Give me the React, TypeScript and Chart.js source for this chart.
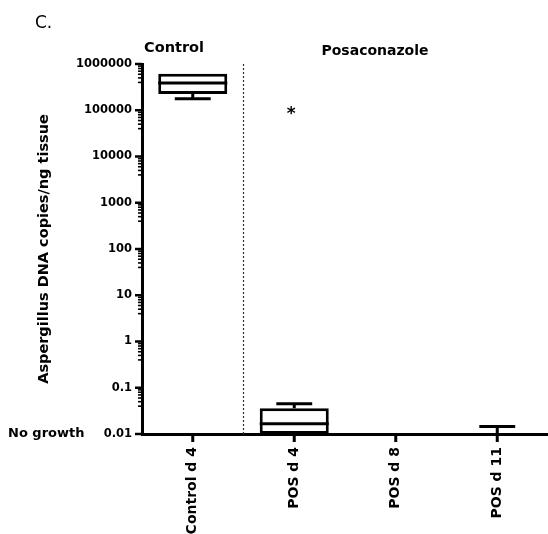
import React, { useEffect, useRef } from "react";
import { Chart, registerables } from "chart.js";

Chart.register(...registerables);

const categories = ["Control d 4", "POS d 4", "POS d 8", "POS d 11"];
const boxLow = [224000, 0.01, null, null];
const boxHigh = [617000, 0.036, null, null];
const medians = [390000, 0.0166, null, null];
const whiskerLow = [178000, null, null, null];
const whiskerHigh = [null, 0.045, null, 0.0145];
const significance = [null, 100000, null, null];
const yMin = 0.01;
const yMax = 1000000;
const minorSteps = [4, 5, 6, 7, 8, 9];

const FONT = "DejaVu Sans";
const LW = 3;

function formatPow(value: number): string {
  const e = Math.log10(value);
  const r = Math.round(e);
  if (Math.abs(e - r) > 1e-6) return "";
  if (r >= 0) return "1" + "0".repeat(r);
  return "0." + "0".repeat(-r - 1) + "1";
}

const overlayPlugin = {
  id: "overlay",
  afterDatasetsDraw(chart: any) {
    const { ctx, chartArea } = chart;
    const x = chart.scales.x;
    const y = chart.scales.y;
    const catW = x.getPixelForValue(1) - x.getPixelForValue(0);
    const boxW = catW * 0.68;
    const capW = boxW * 0.52;
    ctx.save();
    ctx.strokeStyle = "#000";
    ctx.lineWidth = LW;
    ctx.lineCap = "butt";
    categories.forEach((_, i) => {
      const cx = x.getPixelForValue(i);
      if (medians[i] != null) {
        const my = y.getPixelForValue(medians[i]);
        ctx.beginPath();
        ctx.moveTo(cx - boxW / 2, my);
        ctx.lineTo(cx + boxW / 2, my);
        ctx.stroke();
      }
      if (whiskerLow[i] != null) {
        const from = y.getPixelForValue(boxLow[i] != null ? boxLow[i] : yMin);
        const to = y.getPixelForValue(whiskerLow[i]);
        ctx.beginPath();
        ctx.moveTo(cx, from);
        ctx.lineTo(cx, to);
        ctx.moveTo(cx - capW / 2, to);
        ctx.lineTo(cx + capW / 2, to);
        ctx.stroke();
      }
      if (whiskerHigh[i] != null) {
        const from = y.getPixelForValue(boxHigh[i] != null ? boxHigh[i] : yMin);
        const to = y.getPixelForValue(whiskerHigh[i]);
        ctx.beginPath();
        ctx.moveTo(cx, from);
        ctx.lineTo(cx, to);
        ctx.moveTo(cx - capW / 2, to);
        ctx.lineTo(cx + capW / 2, to);
        ctx.stroke();
      }
      if (significance[i] != null) {
        ctx.fillStyle = "#000";
        ctx.font = `bold 17px ${FONT}`;
        ctx.textAlign = "center";
        ctx.textBaseline = "middle";
        ctx.fillText("*", cx - 3, y.getPixelForValue(significance[i]) + 4);
      }
    });

    // y tick marks (major and minor)
    for (let e = Math.round(Math.log10(yMin)); e <= Math.round(Math.log10(yMax)); e++) {
      const base = Math.pow(10, e);
      const py = y.getPixelForValue(base);
      ctx.lineWidth = 2.5;
      ctx.beginPath();
      ctx.moveTo(chartArea.left, py);
      ctx.lineTo(chartArea.left - 7, py);
      ctx.stroke();
      if (e > Math.round(Math.log10(yMin))) {
        ctx.lineWidth = 1.6;
        minorSteps.forEach((m) => {
          const v = (base / 10) * m;
          const my = y.getPixelForValue(v);
          ctx.beginPath();
          ctx.moveTo(chartArea.left, my);
          ctx.lineTo(chartArea.left - 4, my);
          ctx.stroke();
        });
      }
    }
    // x tick marks
    ctx.lineWidth = LW;
    categories.forEach((_, i) => {
      const cx = x.getPixelForValue(i);
      ctx.beginPath();
      ctx.moveTo(cx, chartArea.bottom);
      ctx.lineTo(cx, chartArea.bottom + 8);
      ctx.stroke();
    });

    // dashed separator between groups
    const sx = x.getPixelForValue(0.5);
    ctx.lineWidth = 1.2;
    ctx.strokeStyle = "#333";
    ctx.setLineDash([2, 2]);
    ctx.beginPath();
    ctx.moveTo(sx, chartArea.top);
    ctx.lineTo(sx, chartArea.bottom);
    ctx.stroke();
    ctx.setLineDash([]);
    ctx.strokeStyle = "#000";

    // texts
    ctx.fillStyle = "#000";
    ctx.textBaseline = "alphabetic";
    ctx.textAlign = "left";
    ctx.font = `17px ${FONT}`;
    ctx.fillText("C.", 35, 28);
    ctx.font = `bold 14.5px ${FONT}`;
    ctx.textAlign = "center";
    ctx.fillText("Control", 174, 52);
    ctx.font = `bold 14px ${FONT}`;
    ctx.fillText("Posaconazole", 375, 55);
    ctx.textAlign = "left";
    ctx.font = `bold 13px ${FONT}`;
    ctx.textBaseline = "middle";
    ctx.fillText("No growth", 8, chartArea.bottom);

    ctx.save();
    ctx.translate(44, 249);
    ctx.rotate(-Math.PI / 2);
    ctx.textAlign = "center";
    ctx.textBaseline = "middle";
    ctx.font = `bold 14.5px ${FONT}`;
    ctx.fillText("Aspergillus DNA copies/ng tissue", 0, 0);
    ctx.restore();

    ctx.restore();
  },
};

export default function App() {
  const ref = useRef<HTMLCanvasElement | null>(null);
  useEffect(() => {
    if (!ref.current) return;
    const boxes = categories.map((_, i) =>
      boxLow[i] != null && boxHigh[i] != null ? [boxLow[i], boxHigh[i]] : null
    );
    const chart = new Chart(ref.current, {
      type: "bar",
      data: {
        labels: categories,
        datasets: [
          {
            data: boxes as any,
            backgroundColor: "#fff",
            borderColor: "#000",
            borderWidth: LW,
            borderSkipped: false,
            barPercentage: 0.68,
            categoryPercentage: 1,
          },
        ],
      },
      options: {
        responsive: false,
        animation: false,
        layout: { padding: { top: 64, left: 0, right: 0, bottom: 0 } },
        plugins: { legend: { display: false }, tooltip: { enabled: false } },
        scales: {
          x: {
            type: "category",
            grid: { display: false, drawTicks: false },
            border: { display: true, color: "#000", width: LW },
            ticks: {
              color: "#000",
              font: { family: FONT, weight: "bold", size: 14 },
              minRotation: 90,
              maxRotation: 90,
              padding: 13,
              autoSkip: false,
            },
            afterFit: (s: any) => {
              s.height = 100;
              s.paddingLeft = 0;
              s.paddingRight = 0;
            },
          },
          y: {
            type: "logarithmic",
            min: yMin,
            max: yMax,
            grid: { display: false, drawTicks: false },
            border: { display: true, color: "#000", width: LW },
            ticks: {
              color: "#000",
              font: { family: FONT, weight: "bold", size: 11.5 },
              padding: 10,
              autoSkip: false,
              callback: (v: any) => formatPow(Number(v)),
            },
            afterFit: (s: any) => {
              s.width = 142;
              s.paddingTop = 0;
              s.paddingBottom = 0;
            },
          },
        },
      },
      plugins: [overlayPlugin],
    });
    return () => chart.destroy();
  }, []);
  return (
    <div style={{ position: "absolute", left: 0, top: 0, width: 548, height: 534 }}>
      <canvas ref={ref} width={548} height={534} />
    </div>
  );
}
